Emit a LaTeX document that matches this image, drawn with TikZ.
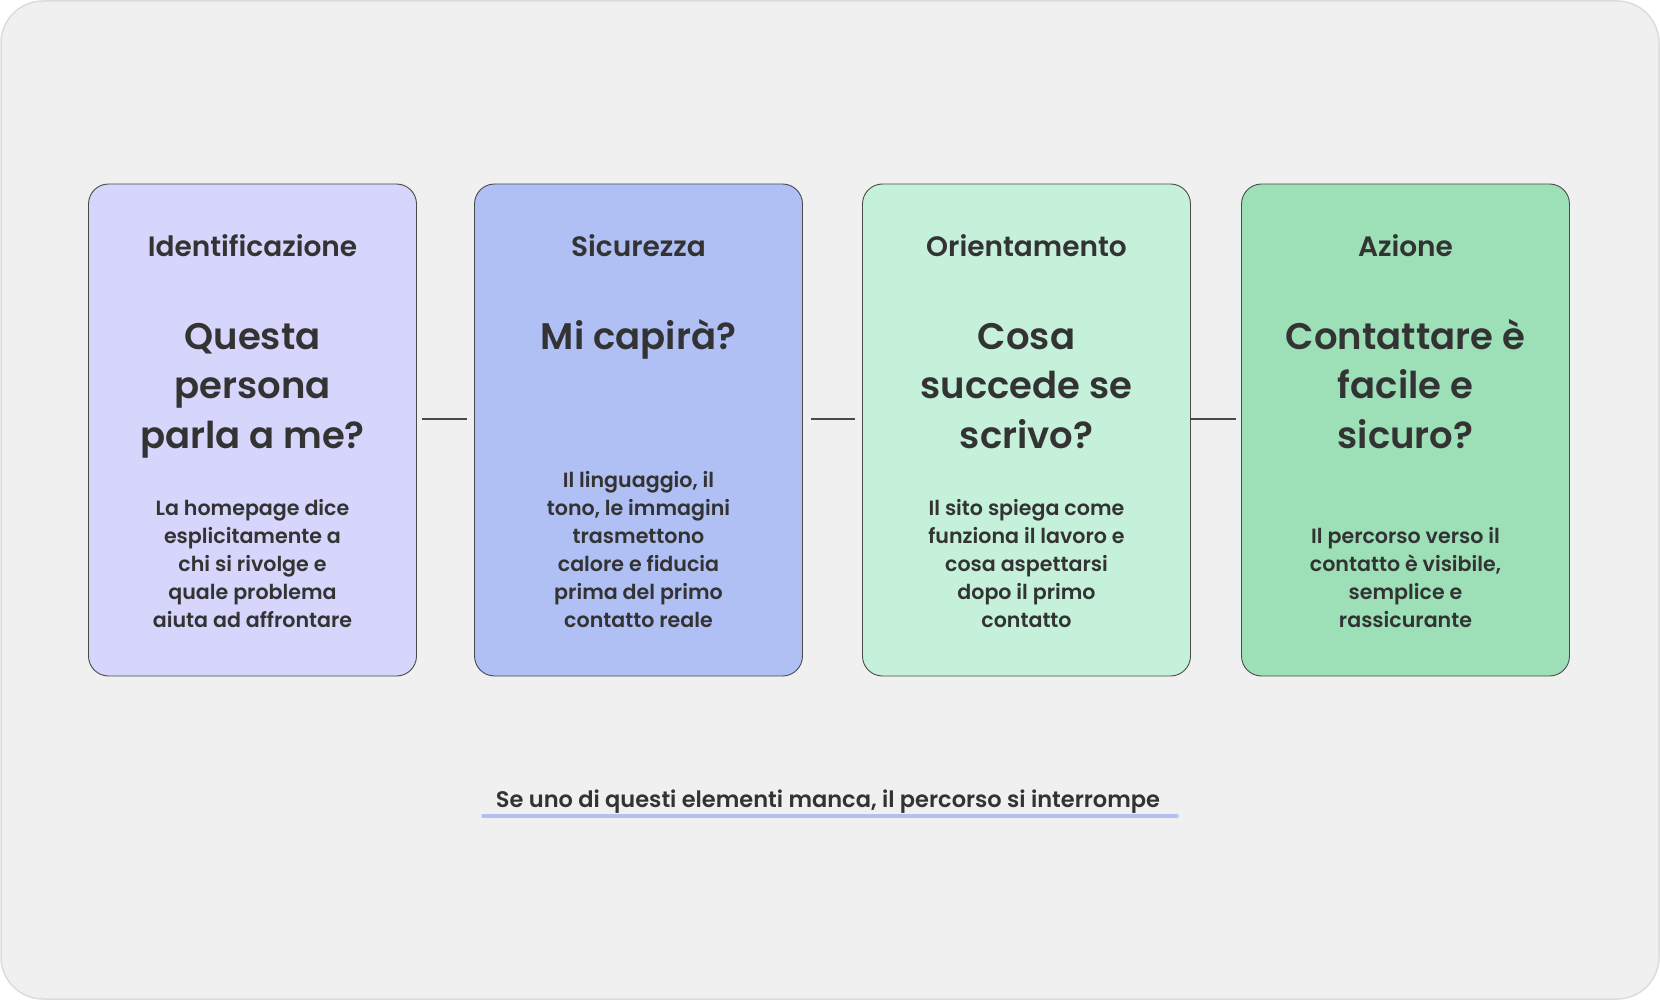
\documentclass[tikz,border=0pt]{standalone}
\usepackage{fontspec}
\setmainfont{Poppins}[UprightFont=* Medium, BoldFont=* SemiBold]
\usetikzlibrary{calc}
\definecolor{bgc}{HTML}{F0F0F0}
\definecolor{framec}{HTML}{DCDCDC}
\definecolor{cA}{HTML}{D6D6FC}
\definecolor{cB}{HTML}{B0C0F5}
\definecolor{cC}{HTML}{C5F1DA}
\definecolor{cD}{HTML}{9DE0B8}
\definecolor{txt}{HTML}{333333}
\definecolor{edge}{HTML}{4A4A4A}
\definecolor{ulc}{HTML}{B1C0F5}
\tikzset{
  card/.style={draw=edge, line width=0.9pt, rounded corners=20pt, minimum width=328pt, minimum height=492pt, inner sep=0pt},
  ttl/.style={anchor=base, inner sep=0pt, text=txt, font=\bfseries\fontsize{28}{30}\selectfont},
  qst/.style={anchor=base, inner sep=0pt, text=txt, font=\bfseries\fontsize{37}{49.5}\selectfont},
  bdy/.style={anchor=base, inner sep=0pt, text=txt, font=\bfseries\fontsize{20.6}{28}\selectfont},
  link/.style={draw=edge, line width=1.1pt},
}
\begin{document}
\begin{tikzpicture}[x=1pt,y=-1pt]
\useasboundingbox (0,0) rectangle (1660,1000);
\draw[fill=bgc, draw=framec, line width=1.5pt, rounded corners=42pt] (1,1) rectangle (1659,999);
% cards
\node[card, fill=cA] (b1) at (252.5,430) {};
\node[card, fill=cB] (b2) at (638.5,430) {};
\node[card, fill=cC] (b3) at (1026.5,430) {};
\node[card, fill=cD] (b4) at (1405.5,430) {};
% titles
\node[ttl] (t1) at (252.5,257) {Identificazione};
\node[ttl] (t2) at (638.5,257) {Sicurezza};
\node[ttl] (t3) at (1026.5,257) {Orientamento};
\node[ttl] (t4) at (1405.5,257) {Azione};
% questions
\node[qst] (q1) at (252.5,349) {\begin{tabular}[t]{@{}c@{}}Questa\\persona\\parla a me?\end{tabular}};
\node[qst] (q2) at (638.5,349) {\begin{tabular}[t]{@{}c@{}}Mi capirà?\end{tabular}};
\node[qst] (q3) at (1026.5,349) {\begin{tabular}[t]{@{}c@{}}Cosa\\succede se\\scrivo?\end{tabular}};
\node[qst] (q4) at (1405.5,349) {\begin{tabular}[t]{@{}c@{}}Contattare è\\facile e\\sicuro?\end{tabular}};
% bodies
\node[bdy] (d1) at (252.5,627) {\begin{tabular}[b]{@{}c@{}}La homepage dice\\esplicitamente a\\chi si rivolge e\\quale problema\\aiuta ad affrontare\end{tabular}};
\node[bdy] (d2) at (638.5,627) {\begin{tabular}[b]{@{}c@{}}Il linguaggio, il\\tono, le immagini\\trasmettono\\calore e fiducia\\prima del primo\\contatto reale\end{tabular}};
\node[bdy] (d3) at (1026.5,627) {\begin{tabular}[b]{@{}c@{}}Il sito spiega come\\funziona il lavoro e\\cosa aspettarsi\\dopo il primo\\contatto\end{tabular}};
\node[bdy] (d4) at (1405.5,627) {\begin{tabular}[b]{@{}c@{}}Il percorso verso il\\contatto è visibile,\\semplice e\\rassicurante\end{tabular}};
% connectors
\draw[link, shorten <=5pt, shorten >=7pt] (b1.east |- 0,419) -- (b2.west |- 0,419);
\draw[link, shorten <=8pt, shorten >=7pt] (b2.east |- 0,419) -- (b3.west |- 0,419);
\draw[link, shorten <=0pt, shorten >=5pt] (b3.east |- 0,419) -- (b4.west |- 0,419);
% footer
\node[anchor=base, inner sep=0pt, text=txt, font=\bfseries\fontsize{22.5}{28}\selectfont] (ft) at (828,807) {Se uno di questi elementi manca, il percorso si interrompe};
\coordinate (ulA) at (483,816);
\coordinate (ulB) at (1177,816);
\draw[ulc, line width=3.5pt, line cap=round] (ulA) -- (ulB);
\end{tikzpicture}
\end{document}
